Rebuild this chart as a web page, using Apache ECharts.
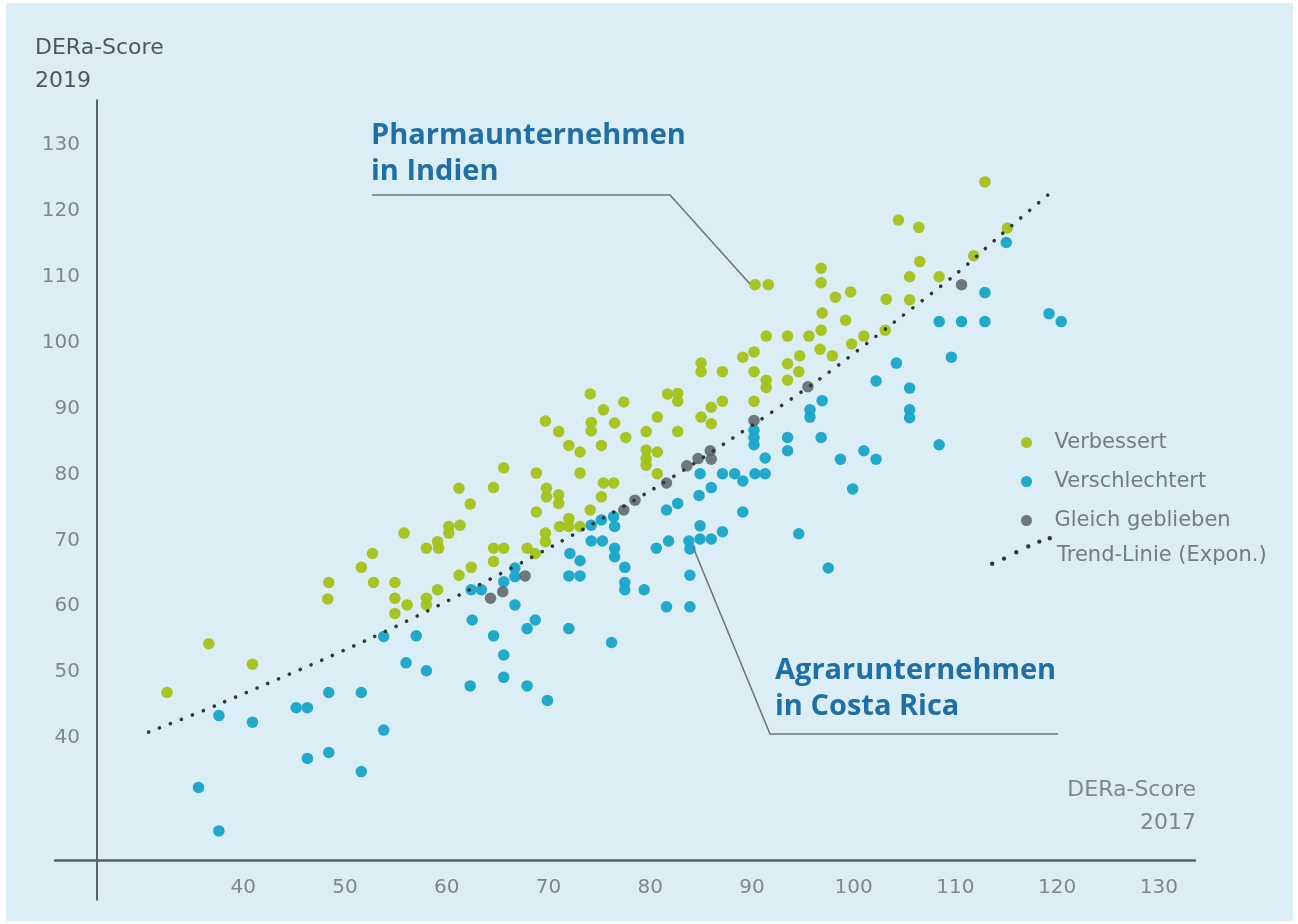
<!DOCTYPE html>
<html>
<head>
<meta charset="utf-8">
<script src="https://cdn.jsdelivr.net/npm/echarts@6/dist/echarts.min.js"></script>
<style>
html,body{margin:0;padding:0;background:#ffffff;}
#bg{position:absolute;left:6px;top:3px;width:1287px;height:918px;background:#dbedf5;}
#c{position:absolute;left:0;top:0;width:1298px;height:924px;}
</style>
</head>
<body>
<div id="bg"></div>
<div id="c"></div>
<script>
// ---- data (DERa-Score 2017 = x, DERa-Score 2019 = y) ----
const improved = [
[32.5,46.9],[36.6,54.3],[40.9,51.2],[48.3,61.1],[48.4,63.6],[51.6,65.9],[52.7,68.0],[52.8,63.6],[54.9,63.6],[54.9,61.2],[54.9,58.9],[55.8,71.1],[56.1,60.2],[58.0,61.2],[58.0,60.2],[59.1,62.5],[58.0,68.8],[59.1,69.8],[59.2,68.8],[60.2,72.1],[60.2,71.1],[61.3,72.3],[61.2,77.9],[62.3,75.5],[64.6,78.0],[61.2,64.7],[62.4,65.9],[64.6,66.8],[64.6,68.8],[65.6,68.8],[67.9,68.8],[68.7,68.0],[69.7,71.1],[69.7,69.8],[69.8,77.9],[69.8,76.6],[71.0,76.9],[71.0,75.6],[68.8,74.3],[71.1,72.1],[72.0,73.3],[72.0,72.1],[73.1,72.1],[74.1,74.6],[75.2,76.6],[75.4,78.7],[76.4,78.7],[65.6,81.0],[68.8,80.2],[73.1,80.2],[69.7,88.1],[71.0,86.5],[72.0,84.4],[73.1,83.4],[74.1,92.2],[74.2,87.9],[74.2,86.6],[75.4,89.8],[75.2,84.4],[76.5,87.8],[77.4,91.0],[77.6,85.6],[79.6,86.5],[80.7,88.7],[81.7,92.2],[82.7,92.3],[82.7,91.1],[82.7,86.5],[79.6,83.7],[80.7,83.4],[79.6,82.4],[79.6,81.4],[80.7,80.1],[85.0,96.9],[85.0,95.6],[87.1,95.6],[89.1,97.8],[90.2,98.6],[90.2,95.6],[91.4,101.0],[91.4,94.3],[91.4,93.2],[93.5,101.0],[95.6,101.0],[96.8,101.9],[101.0,101.0],[99.8,99.8],[96.7,99.0],[97.9,98.0],[94.7,98.0],[93.5,96.8],[94.6,95.6],[93.5,94.3],[87.1,91.1],[86.0,90.2],[85.0,88.7],[86.0,87.7],[90.2,91.1],[112.9,124.4],[104.4,118.6],[106.4,117.5],[115.1,117.4],[106.5,112.3],[105.5,110.0],[108.4,110.0],[111.8,113.2],[103.2,106.6],[105.5,106.5],[103.1,101.9],[90.3,108.8],[91.6,108.8],[96.8,111.3],[96.8,109.1],[98.2,106.9],[99.7,107.7],[96.9,104.5],[99.2,103.4]
];
const worsened = [
[35.6,32.5],[37.6,25.9],[37.6,43.4],[40.9,42.4],[45.2,44.6],[46.3,44.6],[46.3,36.9],[48.4,46.9],[48.4,37.8],[51.6,46.9],[51.6,34.9],[53.8,55.4],[53.8,41.2],[56.0,51.4],[57.0,55.5],[58.0,50.2],[62.3,47.9],[62.5,57.9],[62.4,62.5],[63.4,62.5],[64.6,55.5],[65.6,63.7],[65.6,52.6],[65.6,49.2],[66.7,65.8],[66.7,64.5],[66.7,60.2],[67.9,56.6],[67.9,47.9],[68.7,57.9],[69.9,45.7],[72.0,56.6],[72.0,64.6],[73.1,64.6],[72.1,68.0],[73.1,66.9],[74.2,72.3],[74.2,69.9],[75.2,73.1],[75.3,69.9],[76.4,73.6],[76.5,72.1],[76.5,68.8],[76.5,67.5],[76.2,54.5],[77.5,65.9],[77.5,63.6],[77.5,62.5],[79.4,62.5],[80.6,68.8],[81.8,69.9],[81.6,74.6],[82.7,75.6],[81.6,59.9],[84.8,76.8],[86.0,78.0],[84.9,80.1],[87.1,80.1],[88.3,80.1],[89.1,79.0],[90.3,80.1],[91.3,80.1],[91.3,82.5],[90.2,86.7],[90.2,85.6],[90.2,84.5],[93.5,85.6],[93.5,83.6],[96.8,85.6],[96.9,91.2],[95.7,89.8],[95.7,88.7],[98.7,82.3],[101.0,83.6],[102.2,82.3],[99.9,77.8],[102.2,94.2],[104.2,96.9],[105.5,93.1],[105.5,89.8],[105.5,88.6],[89.1,74.3],[84.9,72.2],[87.1,71.3],[84.9,70.2],[86.0,70.2],[83.8,69.9],[94.6,71.0],[83.9,68.7],[83.9,64.7],[83.9,59.9],[97.5,65.8],[115.0,115.2],[112.9,107.6],[108.4,103.2],[110.6,103.2],[112.9,103.2],[119.2,104.4],[120.4,103.2],[109.6,97.8],[108.4,84.5]
];
const unchanged = [
[64.3,61.2],[65.5,62.2],[67.7,64.6],[77.4,74.6],[78.5,76.1],[81.6,78.7],[83.6,81.3],[84.7,82.4],[85.9,83.6],[86.0,82.3],[90.2,88.2],[95.5,93.3],[110.6,108.8]
];
// exponential trend line
const trend = [
[30.7,40.9],[37.4,45.0],[52.2,54.9],[61.6,62.0],[70.6,69.3],[80.1,77.6],[88.1,85.5],[96.5,94.3],[103.9,103.0],[110.2,110.6],[114.2,116.0],[119.3,122.7]
];
const xTickLabels = [40,50,60,70,80,90,100,110,120,130];
const yTickLabels = [40,50,60,70,80,90,100,110,120,130];
const seriesNames = ['Verbessert','Verschlechtert','Gleich geblieben','Trend-Linie (Expon.)'];

// ---- styles ----
const FONT = 'DejaVu Sans';
const C_GREEN = '#a4c21b', C_BLUE = '#1ba6ca', C_GRAY = '#596266', C_TREND = '#2f383c';
const LABEL_GRAY = '#7c888d';

function dotPath(){
  const pts = [[2.2,27.8],[14,22.6],[26.3,16.2],[38.3,10.4],[49.3,5.6],[59.8,2.2]];
  const r = 2.2;
  return 'path://' + pts.map(p => 'M' + (p[0]-r) + ' ' + p[1] + 'a' + r + ' ' + r + ' 0 1 0 ' + (2*r) + ' 0a' + r + ' ' + r + ' 0 1 0 ' + (-2*r) + ' 0Z').join('');
}
function tickFmt(list){
  return function(v){ for (const t of list) { if (Math.abs(v - t) < 1e-6) return String(t); } return ''; };
}

const chart = echarts.init(document.getElementById('c'), null, {renderer:'canvas', width:1298, height:924});
const option = {
  backgroundColor: 'transparent',
  animation: false,
  grid: {left:55, right:103, top:100, bottom:24, containLabel:false},
  xAxis: {
    type:'value', min:21.49, max:133.55, splitNumber:11, position:'bottom', offset:-40,
    axisLine:{show:true, onZero:false, lineStyle:{color:'#56636a', width:2.5}},
    axisTick:{show:false}, splitLine:{show:false},
    axisLabel:{margin:18, color:LABEL_GRAY, fontSize:20, fontFamily:FONT, formatter:tickFmt(xTickLabels), showMinLabel:true, showMaxLabel:true}
  },
  yAxis: {
    type:'value', min:15.41, max:136.83, splitNumber:12, position:'left', offset:-42,
    axisLine:{show:true, onZero:false, lineStyle:{color:'#363f44', width:1.6}},
    axisTick:{show:false}, splitLine:{show:false},
    axisLabel:{margin:17, color:LABEL_GRAY, fontSize:20, fontFamily:FONT, formatter:tickFmt(yTickLabels), showMinLabel:true, showMaxLabel:true}
  },
  legend: [
    {
      data: seriesNames.slice(0,3), orient:'vertical', left:1016, top:427,
      itemWidth:46, itemHeight:11, itemGap:18, icon:'circle', selectedMode:false,
      textStyle:{color:'#707d83', fontSize:21, fontFamily:FONT, lineHeight:21, padding:[0,0,0,0]}
    },
    {
      data: [seriesNames[3]], orient:'vertical', left:985, top:531,
      itemWidth:62, itemHeight:30, itemGap:0, icon:dotPath(), selectedMode:false,
      formatter: '{t|{name}}',
      textStyle:{color:'#707d83', fontSize:21, fontFamily:FONT,
        rich:{t:{color:'#707d83', fontSize:21, fontFamily:FONT, lineHeight:21, padding:[9,0,0,0]}}}
    }
  ],
  series: [
    {name:seriesNames[0], type:'scatter', data:improved, symbolSize:11.5, itemStyle:{color:C_GREEN, opacity:0.97}, z:2},
    {name:seriesNames[1], type:'scatter', data:worsened, symbolSize:11.5, itemStyle:{color:C_BLUE, opacity:0.97}, z:2},
    {name:seriesNames[2], type:'scatter', data:unchanged, symbolSize:11.5, itemStyle:{color:C_GRAY, opacity:0.85}, z:3},
    {name:seriesNames[3], type:'line', data:trend, smooth:0.3, showSymbol:false, symbol:'none',
      itemStyle:{color:C_TREND},
      lineStyle:{color:C_TREND, width:3.6, type:[0.1,11.6], cap:'round'}, z:4}
  ],
  graphic: [
    {type:'text', left:35, top:37, style:{text:'DERa-Score', fill:'#4e585c', font:'22px "DejaVu Sans"'}},
    {type:'text', left:35, top:70, style:{text:'2019', fill:'#4e585c', font:'22px "DejaVu Sans"'}},
    {type:'text', right:102, top:779, style:{text:'DERa-Score', fill:'#7c888d', font:'22px "DejaVu Sans"'}},
    {type:'text', right:102, top:812, style:{text:'2017', fill:'#7c888d', font:'22px "DejaVu Sans"'}},
    {type:'text', left:371, top:121, style:{text:'Pharmaunternehmen', fill:'#1f6fa6', font:'bold 29px "Open Sans"'}},
    {type:'text', left:371, top:157, style:{text:'in Indien', fill:'#1f6fa6', font:'bold 29px "Open Sans"'}},
    {type:'text', left:775, top:656, style:{text:'Agrarunternehmen', fill:'#1f6fa6', font:'bold 29px "Open Sans"'}},
    {type:'text', left:775, top:692, style:{text:'in Costa Rica', fill:'#1f6fa6', font:'bold 29px "Open Sans"'}},
    {type:'polyline', shape:{points:[[372,195],[670,195],[750,284]]}, style:{stroke:'#6e787c', lineWidth:1.6, fill:null}, z:10},
    {type:'polyline', shape:{points:[[693,547],[770,734],[1058,734]]}, style:{stroke:'#6e787c', lineWidth:1.6, fill:null}, z:10}
  ]
};
chart.setOption(option);
</script>
</body>
</html>
